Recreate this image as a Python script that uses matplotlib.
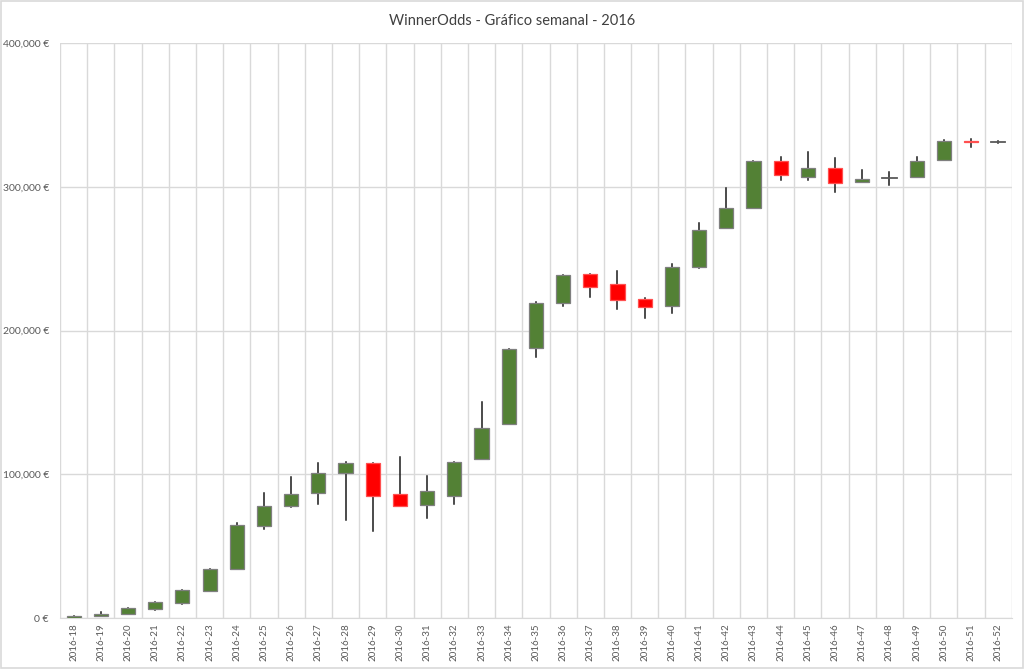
import matplotlib
matplotlib.use("Agg")
import matplotlib.pyplot as plt
from matplotlib.patches import Rectangle
from matplotlib.ticker import FuncFormatter, MultipleLocator
import numpy as np

plt.rcParams["font.family"] = ["Lato", "DejaVu Sans"]

# semanas 2016-18 .. 2016-52 (en euros)
weeks = [f"2016-{w}" for w in range(18, 53)]
opens = [0, 1500, 3000, 6500, 10400, 19000, 34300, 64200, 77900, 87300,
         100800, 107500, 86400, 78800, 85000, 110800, 135100, 187800, 219000, 239200,
         232300, 221800, 217200, 244300, 271200, 285500, 317800, 307100, 313100, 303400,
         305800, 307100, 318500, 332100, 331200]
closes = [1600, 3000, 7000, 10800, 19700, 34300, 64600, 78000, 86200, 100800,
          107500, 84600, 77900, 88300, 108200, 132500, 187300, 219000, 238700, 230600,
          220900, 216500, 244500, 270200, 285300, 317800, 308300, 313100, 302600, 305700,
          306000, 317800, 332100, 331000, 331300]
highs = [1600, 4200, 7000, 10800, 19700, 34300, 66300, 87300, 97800, 107500,
         108700, 107500, 112200, 99000, 108700, 150400, 187300, 219700, 238700, 239200,
         241500, 222700, 246200, 274900, 299200, 317800, 320800, 324300, 320300, 311800,
         310400, 320800, 332800, 333300, 332100]
lows = [0, 1200, 2500, 5300, 9700, 19000, 34300, 61900, 76900, 79000,
        68400, 60500, 77900, 69500, 79300, 110800, 135100, 181900, 217200, 223600,
        214900, 209000, 212500, 243800, 271200, 285500, 304500, 304700, 296200, 303400,
        300900, 307100, 318500, 327500, 330300]

C_UP = "#538135"
C_DOWN = "#ff0000"
C_GRID = "#d9d9d9"

fig = plt.figure(figsize=(10.24, 6.69), dpi=100)
ax = fig.add_axes([0.0586, 0.0762, 0.9295, 0.8595])

xs = np.arange(len(weeks)) + 0.5
w = 0.52
for x, o, c, h, l in zip(xs, opens, closes, highs, lows):
    up = c >= o
    ax.plot([x, x], [l, h], color="#1a1a1a", lw=1.1, zorder=2)
    lo, hi = min(o, c), max(o, c)
    if hi - lo < 400:
        ax.plot([x - w/2, x + w/2], [o, o], color="#595959", lw=1.3, zorder=3)
        continue
    ax.add_patch(Rectangle((x - w/2, lo), w, hi - lo,
                           facecolor=C_UP if up else C_DOWN,
                           edgecolor="#7f7f7f" if up else "#ff5050", lw=0.9, zorder=3))

ax.set_xlim(0, len(weeks))
ax.set_ylim(0, 400000)
ax.yaxis.set_major_locator(MultipleLocator(100000))
ax.yaxis.set_major_formatter(FuncFormatter(lambda v, p: f"{v:,.0f} €"))
ax.set_xticks(xs)
ax.set_xticklabels(weeks, rotation=90, fontsize=7, color="#595959")
ax.set_xticks(np.arange(0, len(weeks) + 1), minor=True)
ax.tick_params(axis="y", labelsize=7.5, colors="#595959", length=0, pad=8)
ax.tick_params(axis="x", which="both", length=0, pad=4)
ax.grid(axis="y", which="major", color=C_GRID, lw=1.0, zorder=0)
ax.grid(axis="x", which="minor", color=C_GRID, lw=1.0, zorder=0)
ax.grid(axis="x", which="major", visible=False)
for s in ["top", "right", "left"]:
    ax.spines[s].set_visible(False)
ax.spines["bottom"].set_color(C_GRID)
ax.set_axisbelow(True)

fig.text(0.5, 0.968, "WinnerOdds - Gráfico semanal - 2016", ha="center", va="center",
         fontsize=10.5, color="#404040")
fig.add_artist(Rectangle((0.001, 0.001), 0.998, 0.998, transform=fig.transFigure,
                         fill=False, edgecolor="#d9d9d9", lw=1.2))

fig.savefig("out.png", dpi=100, facecolor="white")
